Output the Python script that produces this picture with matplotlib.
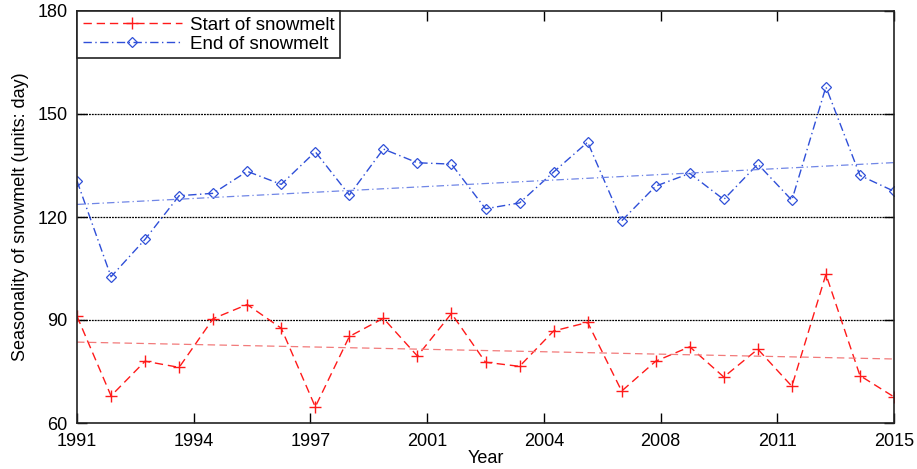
"""Seasonality of snowmelt chart: start / end day per year with linear trends."""

import matplotlib
matplotlib.use("Agg")
import matplotlib.pyplot as plt
import numpy as np

plt.rcParams["font.family"] = ["Liberation Sans", "DejaVu Sans"]

years = np.arange(1991, 2016)

start_melt = [91.1, 67.9, 78.0, 76.2, 90.4, 94.5, 87.6, 64.7, 85.2, 90.5,
              79.5, 91.9, 77.7, 76.5, 86.8, 89.3, 69.3, 78.0, 82.2, 73.4,
              81.5, 70.7, 103.3, 73.8, 67.6]
end_melt = [130.5, 102.6, 113.5, 126.2, 126.9, 133.3, 129.5, 139.0, 126.4, 139.8,
            135.8, 135.4, 122.4, 124.1, 133.1, 141.8, 118.9, 129.0, 132.7, 125.1,
            135.4, 124.9, 157.9, 132.1, 127.5]

tick_labels = ["1991", "1994", "1997", "2001", "2004", "2008", "2011", "2015"]
y_ticks = [60, 90, 120, 150, 180]

fig = plt.figure(figsize=(9.17, 4.69), dpi=100)
ax = fig.add_axes([77 / 917, 1 - 423 / 469, 817 / 917, 412 / 469])

red = "#ff1a1a"
blue = "#2f4fd8"
dash = (0, (6, 3.5))
dashdot = (0, (6, 2.5, 1, 2.5))

ax.plot(years, start_melt, linestyle=dash, color=red, marker="+",
        markersize=8, linewidth=1.0, label="Start of snowmelt")
ax.plot(years, end_melt, linestyle=dashdot, color=blue, marker="D",
        markersize=5, markerfacecolor="none", markeredgewidth=0.9,
        linewidth=1.0, label="End of snowmelt")

# linear trends
for vals, col, ls in [(start_melt, "#f27a7a", dash), (end_melt, "#7086e6", dashdot)]:
    k, b = np.polyfit(years, vals, 1)
    ax.plot(years, k * years + b, linestyle=ls, color=col, linewidth=0.9)

for yv in [90, 120, 150]:
    ax.axhline(yv, color="black", linestyle=(0, (1.5, 0.8)), linewidth=0.9, zorder=0)

ax.set_xlim(1991, 2015)
ax.set_ylim(60, 180)
ax.set_xticks(np.linspace(1991, 2015, len(tick_labels)))
ax.set_xticklabels(tick_labels)
ax.set_yticks(y_ticks)
ax.tick_params(direction="in", length=7, width=1, labelsize=13,
               top=True, right=True, pad=7)
for sp in ax.spines.values():
    sp.set_linewidth(1.2)
    sp.set_color("#222222")

ax.set_xlabel("Year", fontsize=13, labelpad=0)
ax.set_ylabel("Seasonality of snowmelt (units: day)", fontsize=13, labelpad=6)

leg = ax.legend(loc="upper left", bbox_to_anchor=(0, 1), borderaxespad=0,
                fontsize=13.5, fancybox=False, framealpha=1, edgecolor="#222222",
                handlelength=5.3, borderpad=0.3, labelspacing=0.1,
                handletextpad=0.4)
leg.get_frame().set_linewidth(1.2)

fig.savefig("out.png", dpi=100)
plt.close(fig)
